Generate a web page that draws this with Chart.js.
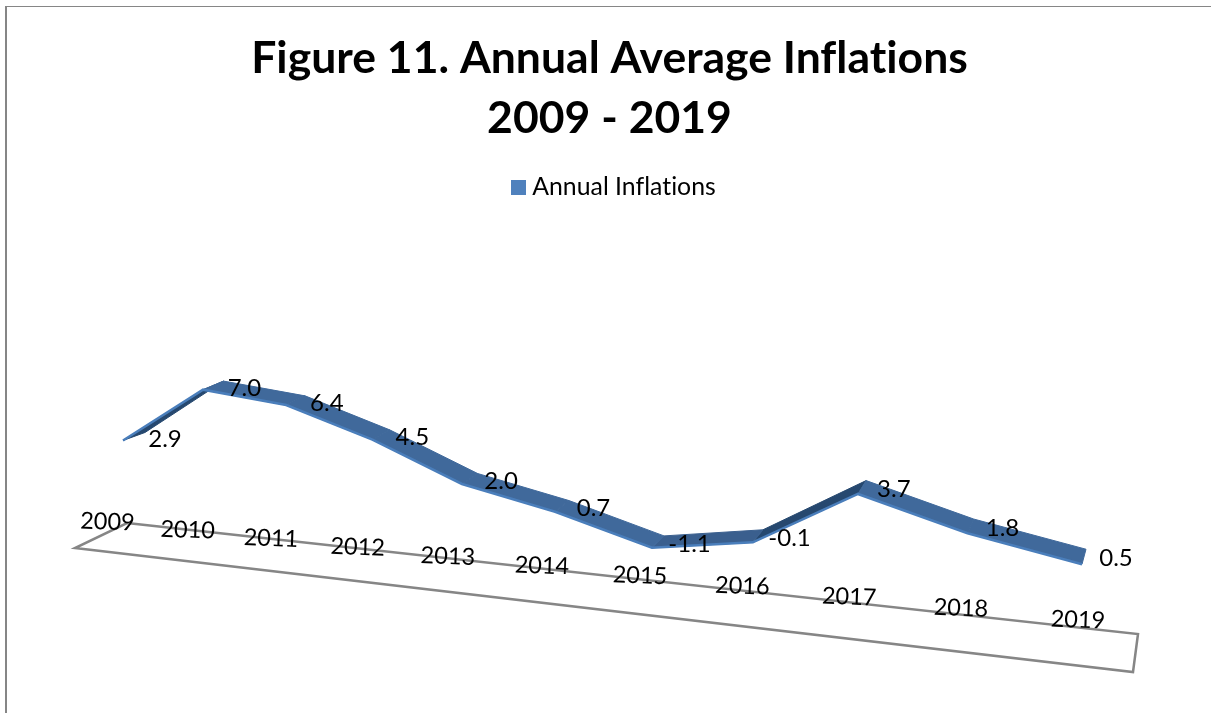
<!DOCTYPE html>
<html lang="en">
<head>
  <meta charset="UTF-8" />
  <title>Figure 11. Annual Average Inflations</title>
  <script src="https://cdn.jsdelivr.net/npm/chart.js"></script>
  <style>
    html, body { margin: 0; background: #fff; overflow: hidden; }
    #frame { position: absolute; left: 5px; top: 6px; width: 1300px; height: 800px; border-left: 2px solid #868686; border-top: 1px solid #868686; }
    #chart { position: absolute; left: 0; top: 0; }
  </style>
</head>
<body>
  <div id="frame"></div>
  <canvas id="chart" width="1211" height="713"></canvas>

  <script>
    const titleLines = ['Figure 11. Annual Average Inflations', '2009 - 2019'];
    const seriesName = 'Annual Inflations';
    const years = ['2009', '2010', '2011', '2012', '2013', '2014', '2015', '2016', '2017', '2018', '2019'];
    const inflation = [2.9, 7.0, 6.4, 4.5, 2.0, 0.7, -1.1, -0.1, 3.7, 1.8, 0.5];

    // fake 3D view settings
    const plotLeft = 123, plotRight = 1082;
    const foreshorten = 0.82;   // year spacing grows towards the viewer
    const tilt = 0.095;         // the whole series runs downhill
    const nearZoom = 0.13;      // values look taller towards the viewer
    const floorCorners = [[127, 523], [1138, 634], [1133, 672], [75, 548]];
    const fontName = 'Lato, "Open Sans", sans-serif';

    class PerspectiveScale extends Chart.CategoryScale {
      getPixelForDecimal(d) {
        const p = d * foreshorten / (1 + d * (foreshorten - 1));
        return plotLeft + p * (plotRight - plotLeft);
      }
    }
    PerspectiveScale.id = 'perspective';
    PerspectiveScale.defaults = Chart.CategoryScale.defaults;
    Chart.register(PerspectiveScale);

    const depth = t => ({ dx: 22 - 18 * t, dy: -8 - 7 * t });
    const along = x => (x - plotLeft) / (plotRight - plotLeft);

    // legend swatch, wider than the box the legend reserves so the text sits close to it
    const swatch = document.createElement('canvas');
    swatch.width = 15;
    swatch.height = 15;
    const swatchCtx = swatch.getContext('2d');
    swatchCtx.fillStyle = '#4f81bd';
    swatchCtx.fillRect(0, 0, 15, 15);

    const view3d = {
      id: 'view3d',
      afterLayout(chart) {
        chart.legend.left += 7;
        chart.legend.right += 7;
      },
      beforeDraw(chart) {
        chart.ctx.letterSpacing = '0.01px';   // no ligatures in the Lato text
      },
      afterDatasetsUpdate(chart) {
        const zero = chart.scales.y.getPixelForValue(0);
        chart.getDatasetMeta(0).data.forEach(pt => {
          const zoomed = zero + (pt.y - zero) * (1 + nearZoom * along(pt.x));
          pt.y = zoomed + tilt * (pt.x - plotLeft);
        });
      },
      beforeDatasetsDraw(chart) {
        const ctx = chart.ctx;
        const pts = chart.getDatasetMeta(0).data;

        // floor
        ctx.save();
        ctx.strokeStyle = '#868686';
        ctx.lineWidth = 2.5;
        ctx.beginPath();
        floorCorners.forEach((c, i) => i ? ctx.lineTo(c[0], c[1]) : ctx.moveTo(c[0], c[1]));
        ctx.closePath();
        ctx.stroke();

        // ribbon, rising faces go underneath
        const order = pts.slice(1).map((p, i) => i);
        order.sort((a, b) => (inflation[b + 1] - inflation[b]) - (inflation[a + 1] - inflation[a]));
        ctx.lineWidth = 1;
        order.forEach(i => {
          const a = pts[i], b = pts[i + 1];
          const da = depth(along(a.x)), db = depth(along(b.x));
          const rise = inflation[i + 1] - inflation[i];
          ctx.fillStyle = ctx.strokeStyle = rise > 2 ? '#26486f' : rise > 0 ? '#3a5f8e' : '#40699b';
          ctx.beginPath();
          ctx.moveTo(a.x, a.y);
          ctx.lineTo(b.x, b.y);
          ctx.lineTo(b.x + db.dx, b.y + db.dy);
          ctx.lineTo(a.x + da.dx, a.y + da.dy);
          ctx.closePath();
          ctx.fill();
          ctx.stroke();
        });
        ctx.restore();
      },
      afterDatasetsDraw(chart) {
        const ctx = chart.ctx;
        const pts = chart.getDatasetMeta(0).data;
        ctx.save();
        ctx.fillStyle = '#000';
        ctx.textAlign = 'center';
        ctx.textBaseline = 'middle';
        ctx.font = '24px ' + fontName;

        // value labels
        pts.forEach((pt, i) => {
          const t = along(pt.x);
          ctx.fillText(inflation[i].toFixed(1), pt.x + 42 - 8 * t, pt.y - 1 - 5 * t);
        });

        // year labels sit on the back edge of the floor
        ctx.font = '23.5px ' + fontName;
        const xs = chart.scales.x;
        years.forEach((year, i) => {
          const px = xs.getPixelForValue(i);
          const t = along(px);
          const x = px - 15.5 + 11.5 * t * t;
          const y = 522 + 0.101 * (x - 108);
          ctx.save();
          ctx.translate(x, y);
          ctx.rotate(2 * Math.PI / 180);
          ctx.fillText(year, 0, 0);
          ctx.restore();
        });
        ctx.restore();
      }
    };

    new Chart(document.getElementById('chart'), {
      type: 'line',
      data: {
        labels: years,
        datasets: [{
          label: seriesName,
          data: inflation,
          borderColor: '#4a7ebb',
          backgroundColor: '#4f81bd',
          borderWidth: 2.5,
          borderJoinStyle: 'miter',
          pointRadius: 0,
          tension: 0,
          clip: false
        }]
      },
      plugins: [view3d],
      options: {
        responsive: false,
        animation: false,
        layout: { padding: { left: 8, right: 0, top: 0, bottom: 60 } },
        plugins: {
          title: {
            display: true,
            text: titleLines,
            color: '#000',
            font: { family: fontName, size: 44.5, weight: 'bold', lineHeight: 1.348 },
            padding: { top: 29, bottom: 16 }
          },
          legend: {
            display: true,
            labels: {
              color: '#000',
              font: { family: fontName, size: 24.8 },
              usePointStyle: true,
              boxWidth: 3,
              boxHeight: 15,
              generateLabels(chart) {
                const items = Chart.defaults.plugins.legend.labels.generateLabels(chart);
                items.forEach(item => { item.pointStyle = swatch; });
                return items;
              }
            }
          },
          tooltip: { enabled: false }
        },
        scales: {
          x: { type: 'perspective', display: false, offset: false },
          y: { display: false, min: -12.3, max: 19.4 }
        }
      }
    });
  </script>
</body>
</html>
